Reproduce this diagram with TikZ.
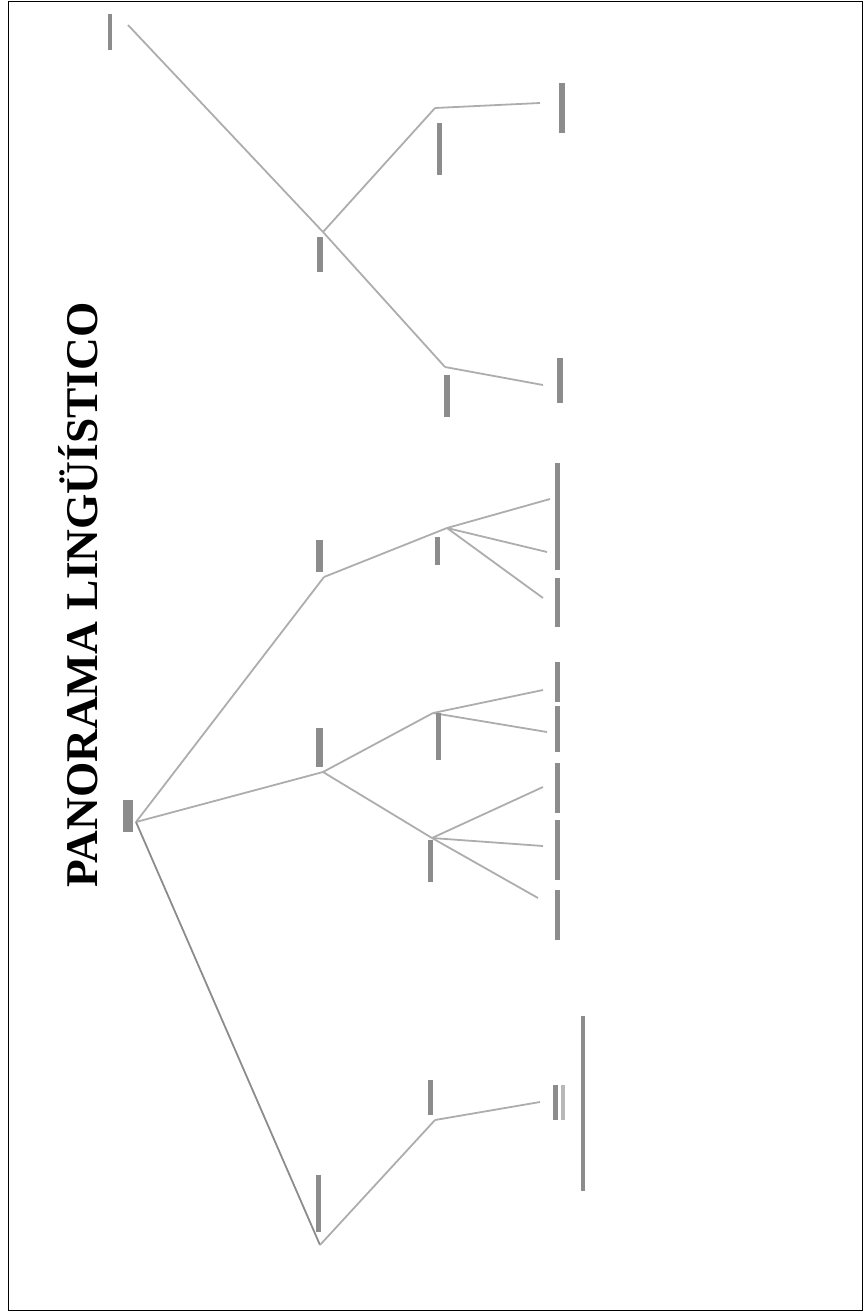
\documentclass[tikz,border=0pt]{standalone}
\usepackage{fontspec}
\setmainfont{Liberation Serif}
\begin{document}
\begin{tikzpicture}[x=0.5pt,y=-0.5pt,
  edge/.style={draw=black!32, line width=0.9pt},
  lbar/.style={fill=black!45, draw=none, inner sep=0pt, minimum width=2.5pt},
  lbarl/.style={fill=black!28, draw=none, inner sep=0pt, minimum width=2pt},
  frame/.style={draw=black, line width=0.7pt}]
\useasboundingbox (0,0) rectangle (864,1312);
\draw[frame] (8.5,1.5) rectangle (862.5,1310.5);
% title
\node[rotate=90, anchor=base, font=\bfseries\fontsize{22.7}{26}\selectfont, inner sep=0pt] (title) at (97,595) {PANORAMA LINGÜÍSTICO};
% junction points
\coordinate (t) at (128,25);
\coordinate (d) at (323,232);
\coordinate (d1) at (435,108);
\coordinate (d11) at (540,103);
\coordinate (d2) at (445,367);
\coordinate (d21) at (543,385);
\coordinate (r) at (136,822);
\coordinate (c) at (324,577);
\coordinate (c1) at (447,528);
\coordinate (c11) at (550,499);
\coordinate (c12) at (547,552);
\coordinate (c13) at (543,598);
\coordinate (b) at (323,772);
\coordinate (b1) at (433,713);
\coordinate (b11) at (543,690);
\coordinate (b12) at (547,732);
\coordinate (b2) at (432,838);
\coordinate (b21) at (543,787);
\coordinate (b22) at (543,846);
\coordinate (b23) at (538,898);
\coordinate (a) at (320,1245);
\coordinate (a1) at (435,1120);
\coordinate (a11) at (540,1102);
% connectors
\draw[edge] (t) -- (d);
\draw[edge] (d) -- (d1);
\draw[edge] (d1) -- (d11);
\draw[edge] (d) -- (d2);
\draw[edge] (d2) -- (d21);
\draw[edge] (r) -- (c);
\draw[edge] (c) -- (c1);
\draw[edge] (c1) -- (c11);
\draw[edge] (c1) -- (c12);
\draw[edge] (c1) -- (c13);
\draw[edge] (r) -- (b);
\draw[edge] (b) -- (b1);
\draw[edge] (b1) -- (b11);
\draw[edge] (b1) -- (b12);
\draw[edge] (b) -- (b2);
\draw[edge] (b2) -- (b21);
\draw[edge] (b2) -- (b22);
\draw[edge] (b2) -- (b23);
\draw[edge, draw=black!45] (r) -- (a);
\draw[edge] (a) -- (a1);
\draw[edge] (a1) -- (a11);
% label bars (illegible labels)
\node[lbar, minimum width=2pt, minimum height=18pt] (lt) at (110,32) {};
\node[lbar, minimum width=3pt, minimum height=17.5pt] (ld) at (320,254) {};
\node[lbar, minimum height=26pt] (ld1) at (439.5,149) {};
\node[lbar, minimum width=3pt, minimum height=25pt] (ld11) at (562,108) {};
\node[lbar, minimum width=3pt, minimum height=21pt] (ld2) at (446.5,396) {};
\node[lbar, minimum width=3pt, minimum height=22.5pt] (ld21) at (560,380) {};
\node[lbar, minimum width=3.5pt, minimum height=16pt] (lc) at (319,556) {};
\node[lbar, minimum height=14pt] (lc1) at (437.5,551) {};
\node[lbar, minimum height=53.5pt] (lc11) at (557.5,516.5) {};
\node[lbar, minimum height=24.5pt] (lc12) at (557.5,602.5) {};
\node[lbar, minimum width=3.5pt, minimum height=19.5pt] (lb) at (319.5,747.5) {};
\node[lbar, minimum height=23.5pt] (lb1) at (438.5,736.5) {};
\node[lbar, minimum height=20pt] (lb11) at (557,682) {};
\node[lbar, minimum height=23pt] (lb12) at (557,729) {};
\node[lbar, minimum height=21pt] (lb2) at (430.5,861) {};
\node[lbar, minimum height=25pt] (lb21) at (557,788) {};
\node[lbar, minimum height=30pt] (lb22) at (557,850) {};
\node[lbar, minimum height=25pt] (lb23) at (557,915) {};
\node[lbar, minimum width=5pt, minimum height=16pt] (lr) at (128,816) {};
\node[lbar, minimum height=28.5pt] (la) at (318.5,1203.5) {};
\node[lbar, minimum height=17.5pt] (la1) at (430.5,1097.5) {};
\node[lbar, minimum height=17.5pt] (la11) at (555,1102) {};
\node[lbarl, minimum height=17.5pt] (la11b) at (562.5,1102) {};
\node[lbar, minimum width=2pt, minimum height=87.5pt] (lnote) at (583,1103) {};
\end{tikzpicture}
\end{document}
